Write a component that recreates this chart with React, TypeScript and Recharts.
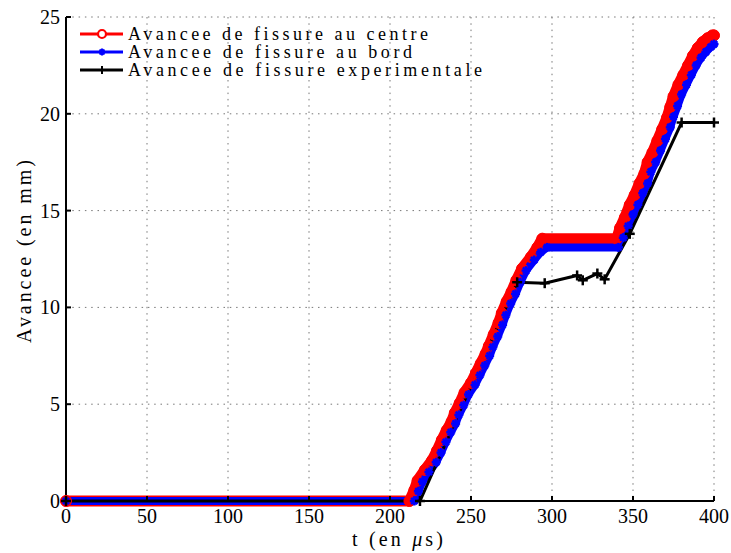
import React from "react";
import { LineChart, Line, XAxis, YAxis, CartesianGrid } from "recharts";

// Avancee de fissure au centre
const centreT = [0, 212, 215, 217, 221.5, 226, 229, 232, 235, 238, 240, 243, 246, 250, 253, 256, 259, 261, 264, 267, 269, 272, 275, 278, 281.5, 287, 291, 294, 340, 342, 345, 348, 351, 354, 357, 359, 362, 365, 368, 371, 373, 375, 378, 381, 384, 387, 390, 393, 396, 399, 400];
const centreY = [0, 0, 0.55, 1.05, 1.6, 2.1, 2.6, 3.15, 3.65, 4.1, 4.55, 5.05, 5.6, 6.1, 6.6, 7.1, 7.6, 8.0, 8.6, 9.2, 9.7, 10.3, 10.8, 11.4, 12.0, 12.6, 13.1, 13.55, 13.55, 14.1, 14.65, 15.3, 15.8, 16.4, 16.9, 17.5, 18.0, 18.6, 19.2, 19.8, 20.35, 20.9, 21.5, 22.0, 22.5, 23.0, 23.4, 23.7, 23.9, 24.05, 24.05];

// Avancee de fissure au bord
const bordT = [0, 215, 217.5, 220, 224, 228.5, 231.5, 234.5, 237.5, 240.5, 242.5, 245.5, 248.5, 252.5, 255.5, 258.5, 261.5, 263.5, 266.5, 269.5, 271.5, 274.5, 277.5, 280.5, 284, 289, 293, 297, 341, 344, 347, 350, 353, 356, 359, 361, 364, 367, 370, 373, 375, 377.5, 380, 383, 386, 389, 392, 395, 398, 400];
const bordY = [0, 0, 0.5, 1.0, 1.5, 2.0, 2.5, 3.05, 3.55, 4.0, 4.45, 4.95, 5.5, 6.0, 6.5, 7.0, 7.5, 7.95, 8.5, 9.1, 9.6, 10.2, 10.7, 11.3, 11.9, 12.45, 12.85, 13.1, 13.1, 13.6, 14.2, 14.8, 15.3, 15.9, 16.4, 17.0, 17.5, 18.1, 18.7, 19.3, 19.85, 20.4, 21.0, 21.5, 22.0, 22.5, 22.9, 23.2, 23.45, 23.6];

// Avancee de fissure experimentale
const expT = [0, 218.5, 278.5, 295.5, 315.5, 319, 328, 332.5, 348, 380, 400];
const expY = [0, 0, 11.3, 11.25, 11.65, 11.4, 11.75, 11.45, 13.8, 19.55, 19.55];

const xTicks = [0, 50, 100, 150, 200, 250, 300, 350, 400];
const yTicks = [0, 5, 10, 15, 20, 25];

const legendLabels = [
  "Avancee de fissure au centre",
  "Avancee de fissure au bord",
  "Avancee de fissure experimentale",
];
const xLabel = "t (en ";
const xLabelUnit = "μ";
const xLabelEnd = "s)";
const yLabel = "Avancee (en mm)";

const zip = (t: number[], y: number[]) => t.map((v, i) => ({ t: v, y: y[i] }));
const centreData = zip(centreT, centreY);
const bordData = zip(bordT, bordY);
const expData = zip(expT, expY);

const FONT = "'Liberation Serif', 'DejaVu Serif', serif";
const RED = "#ff0000";
const BLUE = "#0000ff";

const RedDot = (p: any) => (
  <circle key={`r${p.index}`} cx={p.cx} cy={p.cy} r={5.5} fill={RED} stroke={RED} strokeWidth={1} />
);

const Star = ({ cx, cy, s, color, w }: any) => (
  <g>
    <line x1={cx - s} x2={cx + s} y1={cy} y2={cy} stroke={color} strokeWidth={w} />
    <line x1={cx} x2={cx} y1={cy - s} y2={cy + s} stroke={color} strokeWidth={w} />
    <line x1={cx - s * 0.7} x2={cx + s * 0.7} y1={cy - s * 0.7} y2={cy + s * 0.7} stroke={color} strokeWidth={w} />
    <line x1={cx - s * 0.7} x2={cx + s * 0.7} y1={cy + s * 0.7} y2={cy - s * 0.7} stroke={color} strokeWidth={w} />
  </g>
);

const BlueDot = (p: any) => (
  <g key={`b${p.index}`}>
    <Star cx={p.cx} cy={p.cy} s={4.5} color={BLUE} w={2.5} />
  </g>
);

const Plus = ({ cx, cy, s, w }: any) => (
  <g>
    <line x1={cx - s} x2={cx + s} y1={cy} y2={cy} stroke="#000" strokeWidth={w} />
    <line x1={cx} x2={cx} y1={cy - s} y2={cy + s} stroke="#000" strokeWidth={w} />
  </g>
);

const BlackDot = (p: any) => (
  <g key={`k${p.index}`}>
    <Plus cx={p.cx} cy={p.cy} s={5} w={2.5} />
  </g>
);

const XTick = (p: any) => {
  const { x, y, payload } = p;
  return (
    <g>
      <line x1={x} x2={x} y1={y} y2={y - 5} stroke="#000" strokeWidth={2} />
      <text x={x} y={y + 22} textAnchor="middle" fontFamily={FONT} fontSize={20} fill="#000">
        {payload.value}
      </text>
    </g>
  );
};

const YTick = (p: any) => {
  const { x, y, payload } = p;
  return (
    <g>
      <line x1={x} x2={x + 5} y1={y} y2={y} stroke="#000" strokeWidth={2} />
      <text x={x - 6} y={y + 7} textAnchor="end" fontFamily={FONT} fontSize={20} fill="#000">
        {payload.value}
      </text>
    </g>
  );
};

const LegendBox = () => {
  const rows = [34, 52, 70];
  const widths = [300, 284, 354];
  return (
    <g>
      <line x1={80} x2={123} y1={rows[0]} y2={rows[0]} stroke={RED} strokeWidth={3} />
      <circle cx={102} cy={rows[0]} r={4} fill="#fff" stroke={RED} strokeWidth={2.2} />
      <line x1={80} x2={123} y1={rows[1]} y2={rows[1]} stroke={BLUE} strokeWidth={3} />
      <Star cx={102} cy={rows[1]} s={3.5} color={BLUE} w={2} />
      <line x1={80} x2={123} y1={rows[2]} y2={rows[2]} stroke="#000" strokeWidth={3} />
      <Plus cx={102} cy={rows[2]} s={4} w={2} />
      {legendLabels.map((l, i) => (
        <text
          key={l}
          x={128}
          y={rows[i] + 6}
          fontFamily={FONT}
          fontSize={18}
          textLength={widths[i]}
          lengthAdjust="spacing"
          fill="#000"
        >
          {l}
        </text>
      ))}
    </g>
  );
};

const AxisTitles = () => (
  <g>
    <text
      x={352}
      y={546}
      fontFamily={FONT}
      fontSize={20}
      textLength={91}
      lengthAdjust="spacing"
      fill="#000"
    >
      {xLabel}
      <tspan fontStyle="italic">{xLabelUnit}</tspan>
      {xLabelEnd}
    </text>
    <text
      x={0}
      y={0}
      transform="translate(31,343) rotate(-90)"
      fontFamily={FONT}
      fontSize={20}
      textLength={183}
      lengthAdjust="spacing"
      fill="#000"
    >
      {yLabel}
    </text>
  </g>
);

export default function App() {
  return (
    <div style={{ position: "absolute", left: 0, top: 0, width: 731, height: 553, background: "#fff" }}>
      <LineChart width={731} height={553} margin={{ top: 17, right: 17, bottom: 0, left: 0 }}>
        <CartesianGrid stroke="#777" strokeDasharray="1.5 4.8" vertical horizontal />
        <XAxis
          type="number"
          dataKey="t"
          domain={[0, 400]}
          ticks={xTicks}
          interval={0}
          height={52}
          tickSize={0}
          tickMargin={0}
          tickLine={false}
          axisLine={{ stroke: "#000", strokeWidth: 2 }}
          tick={<XTick />}
        />
        <YAxis
          type="number"
          domain={[0, 25]}
          ticks={yTicks}
          interval={0}
          width={66}
          tickSize={0}
          tickMargin={0}
          tickLine={false}
          axisLine={{ stroke: "#000", strokeWidth: 2 }}
          tick={<YTick />}
        />
        <Line
          data={centreData}
          dataKey="y"
          type="linear"
          stroke={RED}
          strokeWidth={11}
          strokeLinecap="round"
          strokeLinejoin="round"
          dot={RedDot}
          isAnimationActive={false}
          legendType="none"
        />
        <Line
          data={bordData}
          dataKey="y"
          type="linear"
          stroke={BLUE}
          strokeWidth={8}
          strokeLinecap="round"
          strokeLinejoin="round"
          dot={BlueDot}
          isAnimationActive={false}
          legendType="none"
        />
        <Line
          data={expData}
          dataKey="y"
          type="linear"
          stroke="#000"
          strokeWidth={3}
          dot={BlackDot}
          isAnimationActive={false}
          legendType="none"
        />
        <LegendBox />
        <AxisTitles />
      </LineChart>
    </div>
  );
}
